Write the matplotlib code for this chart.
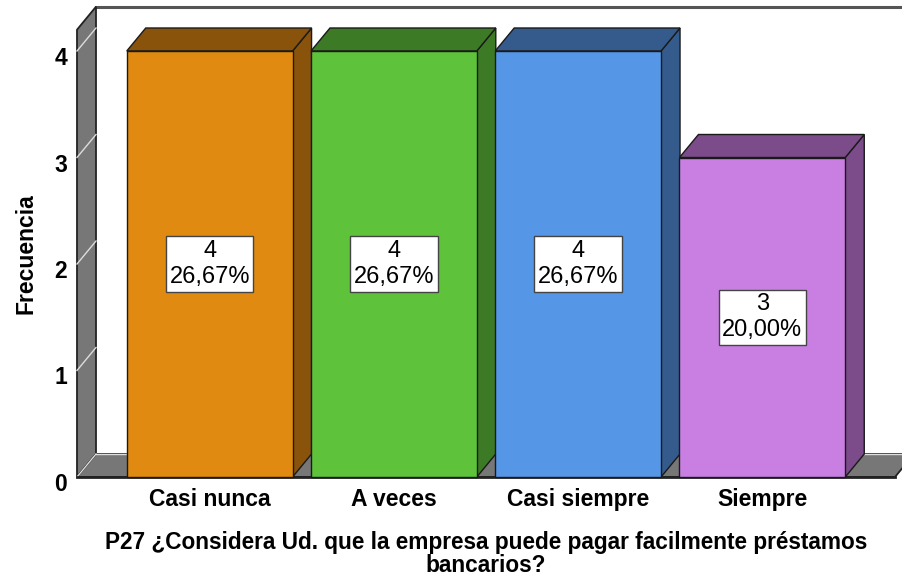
import matplotlib
matplotlib.use("Agg")
import matplotlib.pyplot as plt
from matplotlib.patches import Polygon, Rectangle
from matplotlib.transforms import ScaledTranslation

plt.rcParams['font.family'] = ['Liberation Sans', 'DejaVu Sans']

categories = ['Casi nunca', 'A veces', 'Casi siempre', 'Siempre']
counts = [4, 4, 4, 3]
front_colors = ['#E08A11', '#5EC23A', '#5596E6', '#C97FE2']
dark_colors = ['#8A530B', '#3C7A25', '#355B8D', '#7B4B8A']
y_ticks = [0, 1, 2, 3, 4]
title = 'P27 ¿Considera Ud. que la empresa puede pagar facilmente préstamos\nbancarios?'

total = sum(counts)
pcts = [c / total * 100 for c in counts]

fig = plt.figure(figsize=(9.02, 5.8), dpi=100)
ax = fig.add_axes([77 / 902, 103 / 580, 818 / 902, 447.3 / 580])

x0, x1 = -0.72, 3.72
ymax = 4.2
ax.set_xlim(x0, x1)
ax.set_ylim(0, ymax)

# depth of the fake 3d view, in data units
dx = 19 / (818 / (x1 - x0))
dy = 23 / (447.3 / ymax)
bw = 0.9

# back wall top line
ax.plot([x0 + dx, x1 + dx + 1], [ymax + dy, ymax + dy], color='#555555', lw=2.2, clip_on=False, zorder=1)

# left wall
wall = Polygon([(x0, 0), (x0, ymax), (x0 + dx, ymax + dy), (x0 + dx, dy)],
               closed=True, facecolor='#777777', edgecolor='#222222', lw=1.3, clip_on=False, zorder=2)
ax.add_patch(wall)
for t in y_ticks:
    ax.plot([x0, x0 + dx], [t, t + dy], color='#dddddd', lw=1, clip_on=False, zorder=3)

# floor
floor = Polygon([(x0, 0), (x1, 0), (x1 + dx, dy), (x0 + dx, dy)],
                closed=True, facecolor='#777777', edgecolor='#222222', lw=1.3, clip_on=False, zorder=2)
ax.add_patch(floor)
ax.plot([x0 + dx, x1 + dx], [dy, dy], color='#dddddd', lw=1, clip_on=False, zorder=3)
ax.plot([x0, x1], [0, 0], color='#222222', lw=2, clip_on=False, zorder=3)

for i, (v, fc, dc) in enumerate(zip(counts, front_colors, dark_colors)):
    l, r = i - bw / 2, i + bw / 2
    side = Polygon([(r, 0), (r + dx, dy), (r + dx, v + dy), (r, v)], closed=True,
                   facecolor=dc, edgecolor='#1a1a1a', lw=1, clip_on=False, zorder=4)
    top = Polygon([(l, v), (r, v), (r + dx, v + dy), (l + dx, v + dy)], closed=True,
                  facecolor=dc, edgecolor='#1a1a1a', lw=1, clip_on=False, zorder=4)
    front = Rectangle((l, 0), bw, v, facecolor=fc, edgecolor='#1a1a1a', lw=1, clip_on=False, zorder=5)
    ax.add_patch(side)
    ax.add_patch(top)
    ax.add_patch(front)
    label = f"{v}\n{pcts[i]:.2f}%".replace('.', ',')
    ax.text(i, v / 2, label, ha='center', va='center', fontsize=17, linespacing=1.25, zorder=6,
            bbox=dict(boxstyle='square,pad=0.15', facecolor='white', edgecolor='#444444', lw=1))

ax.set_xticks(range(len(categories)))
ax.set_xticklabels(categories, fontsize=16.5, fontweight='bold')
ax.set_yticks(y_ticks)
ax.set_yticklabels([str(t) for t in y_ticks], fontsize=16.5, fontweight='bold')
ax.tick_params(axis='x', length=0, pad=8)
ax.tick_params(axis='y', length=0, pad=7)
shift = ScaledTranslation(0, -5 / 100, fig.dpi_scale_trans)
for lab in ax.get_yticklabels():
    lab.set_transform(lab.get_transform() + shift)
for s in ax.spines.values():
    s.set_visible(False)
ax.patch.set_visible(False)

ax.set_xlabel(title, fontsize=16.3, fontweight='bold', linespacing=1.02, labelpad=14)
ax.set_ylabel('Frecuencia', fontsize=16.5, fontweight='bold', labelpad=12)

fig.savefig('out.png', dpi=100)
